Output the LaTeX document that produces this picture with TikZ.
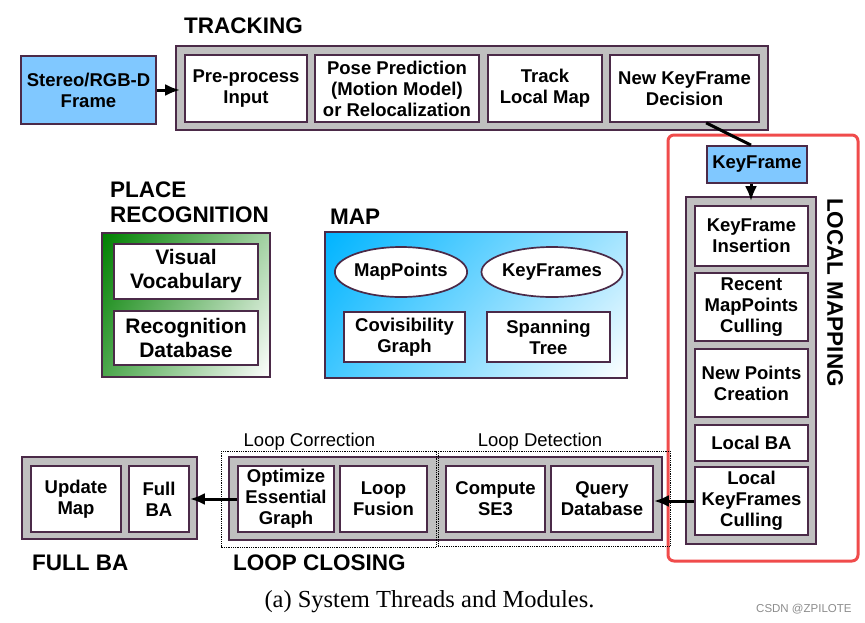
\documentclass[tikz,border=0pt]{standalone}
\usepackage{fontspec}
\setmainfont{Liberation Serif}
\setsansfont{Liberation Sans}
\usepackage{tikz}
\usetikzlibrary{arrows.meta}
\usetikzlibrary{shapes.geometric}
\usetikzlibrary{shadings}
\definecolor{edge}{HTML}{4B2A48}
\definecolor{threadgray}{HTML}{C0C0C0}
\definecolor{inputblue}{HTML}{80C8FF}
\definecolor{redframe}{HTML}{F04B4B}
\definecolor{placegreen}{HTML}{008000}
\definecolor{mapblue}{HTML}{00B4FF}
\definecolor{markgray}{HTML}{8C8C8C}
\newcommand{\modfont}{\sffamily\bfseries\fontsize{18.5}{21}\selectfont}
\newcommand{\placefont}{\sffamily\bfseries\fontsize{21}{24}\selectfont}
\newcommand{\titlefont}{\sffamily\bfseries\fontsize{22.5}{25}\selectfont}

\begin{document}
\begin{tikzpicture}[x=1pt, y=-1pt,
    module/.style={draw=edge, line width=1.7pt, fill=white, inner sep=0pt, align=center, font=\modfont},
    thread/.style={draw=edge, line width=1.7pt, fill=threadgray, inner sep=0pt},
    inputbox/.style={module, fill=inputblue},
    title/.style={font=\titlefont, inner sep=0pt, anchor=base west},
    sublabel/.style={font=\sffamily\fontsize{18.5}{21}\selectfont, inner sep=0pt, anchor=base},
    flow/.style={line width=3pt, -{Latex[length=15pt, width=12pt]}},
    region/.style={draw=black, densely dotted, line width=0.8pt}]
      \useasboundingbox (0,0) rectangle (865,622);

      \draw[redframe, line width=3pt, rounded corners=6] (668,135) rectangle (858,561);

      \node (frame) [inputbox, minimum width=135, minimum height=68] at (88.5,90) {Stereo/RGB-D\\Frame};
      \node (tracking) [thread, minimum width=592, minimum height=84] at (472,88) {};
      \node (preproc) [module, minimum width=122, minimum height=67] at (246,88.5) {Pre-process\\Input};
      \node (posepred) [module, minimum width=164, minimum height=67] at (397,88.5) {Pose Prediction\\(Motion Model)\\or Relocalization};
      \node (tracklocal) [module, minimum width=114, minimum height=67] at (545,88.5) {Track\\Local Map};
      \node (kfdecision) [module, minimum width=149, minimum height=67] at (684.5,88.5) {New KeyFrame\\Decision};
      \node[title] at (184,33) {TRACKING};

      \node (keyframe) [inputbox, minimum width=100, minimum height=37] at (757,164.5) {KeyFrame};
      \node (localmap) [thread, minimum width=130, minimum height=347] at (751,370.5) {};
      \node (kfinsert) [module, minimum width=113, minimum height=60] at (751.5,236) {KeyFrame\\Insertion};
      \node (mpculling) [module, minimum width=113, minimum height=68] at (751.5,307) {Recent\\MapPoints\\Culling};
      \node (newpoints) [module, minimum width=113, minimum height=68] at (751.5,383) {New Points\\Creation};
      \node (localba) [module, minimum width=113, minimum height=36] at (751.5,443) {Local BA};
      \node (kfculling) [module, minimum width=113, minimum height=68] at (751.5,501) {Local\\KeyFrames\\Culling};
      \node[title, anchor=center, rotate=-90] at (835,292.5) {LOCAL MAPPING};

      \node[title, anchor=north west, align=left] at (110,182) {PLACE\\RECOGNITION};
      \node (placerec) [draw=edge, line width=1.7pt, upper left=placegreen, upper right=placegreen!35!white,
        lower left=placegreen!70!white, lower right=white, minimum width=168, minimum height=144] at (186,305) {};
      \node (vocab) [module, font=\placefont, minimum width=144, minimum height=55] at (186,271.5) {Visual\\Vocabulary};
      \node (recdb) [module, font=\placefont, minimum width=144, minimum height=54] at (186,338) {Recognition\\Database};

      \node[title] at (330,224) {MAP};
      \node (map) [draw=edge, line width=1.7pt, upper left=mapblue, upper right=mapblue!35!white,
        lower left=mapblue!75!white, lower right=white, minimum width=302, minimum height=146] at (476,305) {};
      \node (mappoints) [module, ellipse, minimum width=131, minimum height=50] at (401,272) {MapPoints};
      \node (keyframes) [module, ellipse, minimum width=131, minimum height=50] at (552,272) {KeyFrames};
      \node (covis) [module, minimum width=121, minimum height=50] at (404.5,337) {Covisibility\\Graph};
      \node (spanning) [module, minimum width=123, minimum height=50] at (548.5,337) {Spanning\\Tree};

      \node (fullbathread) [thread, minimum width=175, minimum height=82] at (109.5,498) {};
      \node (updatemap) [module, minimum width=90, minimum height=66] at (76,499) {Update\\Map};
      \node (fullba) [module, minimum width=60, minimum height=66] at (159,499) {Full\\BA};
      \node[title] at (32,570) {FULL BA};

      \node (loopclosing) [thread, minimum width=433, minimum height=83] at (445.5,498.5) {};
      \node (optimize) [module, minimum width=96, minimum height=66] at (286,499) {Optimize\\Essential\\Graph};
      \node (fusion) [module, minimum width=87, minimum height=66] at (383.5,499) {Loop\\Fusion};
      \node (se3) [module, minimum width=99, minimum height=66] at (495.5,499) {Compute\\SE3};
      \node (query) [module, minimum width=102, minimum height=66] at (602,499) {Query\\Database};
      \draw[region] (221,451) rectangle (436,547);
      \draw[region] (438,451) rectangle (670,546);
      \node[sublabel] at (309.5,446) {Loop Correction};
      \node[sublabel] at (540,446) {Loop Detection};
      \node[title] at (233,570) {LOOP CLOSING};

      \draw[flow, shorten >=4pt] (frame.east) -- (frame.east -| preproc.west);
      \draw[line width=3pt] (kfdecision.south -| keyframe.west) -- (localmap.north |- keyframe.north);
      \draw[flow, shorten >=4pt] (localmap.north |- keyframe.south) -- (localmap.north |- kfinsert.north);
      \draw[flow] (kfculling.west) -- (kfculling.west -| query.east);
      \draw[flow] (optimize.west) -- (optimize.west -| fullba.east);

      \node[font=\fontsize{24.5}{28}\selectfont, inner sep=0pt, anchor=base] at (429.5,607) {(a) System Threads and Modules.};
      \node[font=\sffamily\fontsize{11.5}{14}\selectfont, text=markgray, inner sep=0pt, anchor=base west] at (756,612) {CSDN @ZPILOTE};
    \end{tikzpicture}
\end{document}
